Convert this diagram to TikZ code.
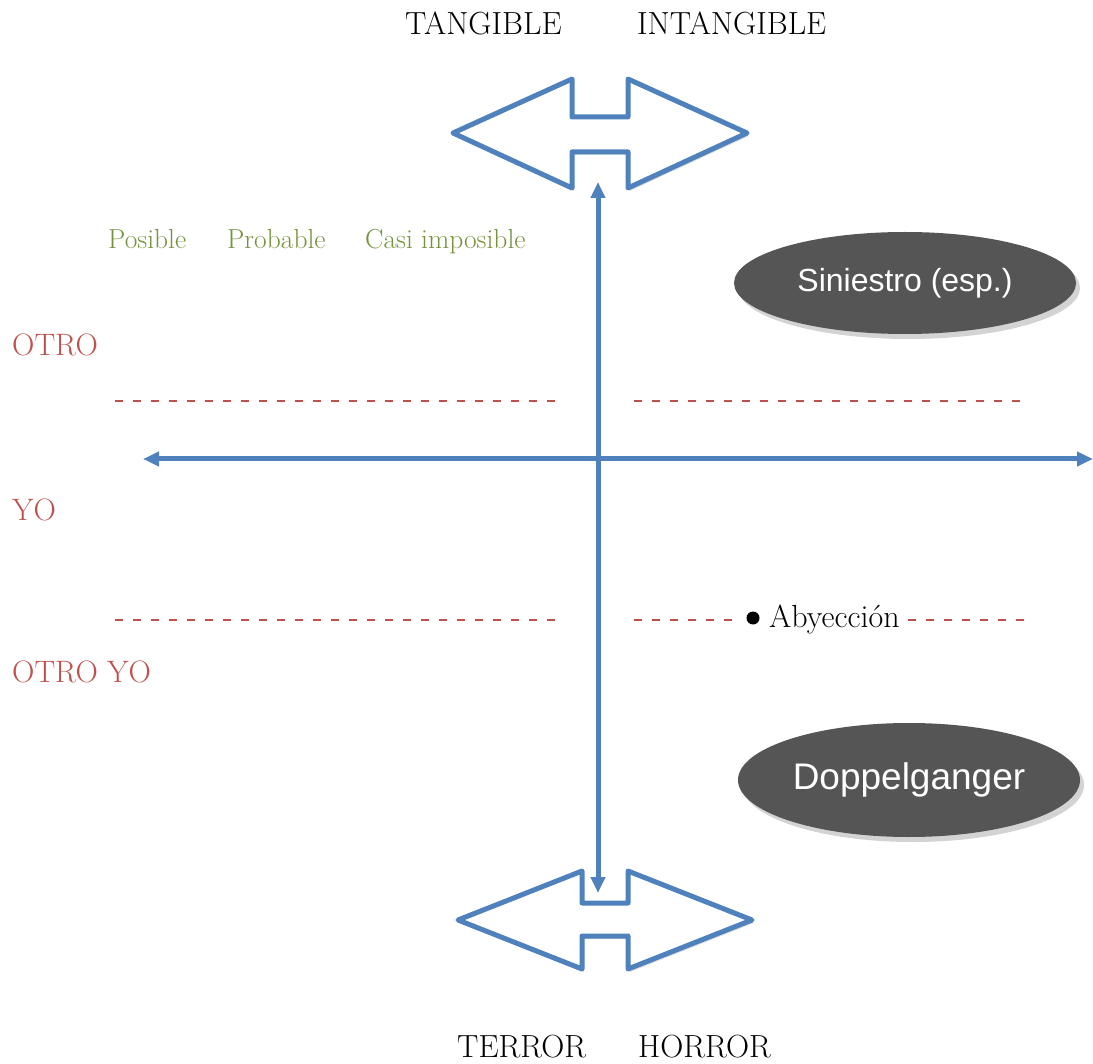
\documentclass[tikz,border=0pt]{standalone}
\usepackage{fontspec}
\newfontfamily\sansletra{Liberation Sans}
\usetikzlibrary{arrows.meta,shadows,shapes.geometric}

\definecolor{azul}{RGB}{79,129,189}
\definecolor{rojo}{RGB}{192,80,77}
\definecolor{verde}{RGB}{118,146,60}
\definecolor{gris}{RGB}{85,85,85}

\tikzset{
  flecha/.style={draw=azul, line width=5pt, line join=round, fill=white,
    drop shadow={opacity=0.25, shadow xshift=2pt, shadow yshift=-3pt}},
  eje/.style={azul, line width=5pt,
    {Triangle[length=16pt,width=14pt]}-{Triangle[length=16pt,width=14pt]}},
  guia/.style={rojo, line width=1.3pt, dash pattern=on 8pt off 10pt},
  burbuja/.style={ellipse, fill=gris, text=white, inner sep=0pt,
    minimum width=342pt, drop shadow={opacity=0.35, shadow xshift=4pt, shadow yshift=-5pt}},
  titulo/.style={anchor=base west, inner sep=0pt, font=\fontsize{32}{36}\selectfont},
  grado/.style={anchor=base west, inner sep=0pt, text=verde, font=\fontsize{27.5}{31}\selectfont},
  sujeto/.style={anchor=base west, inner sep=0pt, text=rojo, font=\fontsize{31}{35}\selectfont}
}

\begin{document}
\begin{tikzpicture}[x=1pt,y=-1pt]
  \useasboundingbox (0,0) rectangle (1093,1064);

  % Flechas dobles
  \draw[flecha] (453,133) -- (572,79) -- (572,117) -- (628,117) -- (628,79) -- (747,133)
    -- (628,188) -- (628,152) -- (572,152) -- (572,188) -- cycle;
  \draw[flecha] (458,920) -- (582,871) -- (582,903) -- (628,903) -- (628,871) -- (752,920)
    -- (628,969) -- (628,936) -- (582,936) -- (582,969) -- cycle;

  % Textos de los extremos
  \node[titulo] (tangible) at (405,35) {TANGIBLE};
  \node[titulo] (intangible) at (637,35) {INTANGIBLE};
  \node[titulo] (terror) at (457,1057) {TERROR};
  \node[titulo] (horror) at (638,1057) {HORROR};

  % Grados de posibilidad
  \node[grado] (posible) at (108,249) {Posible};
  \node[grado] (probable) at (227,249) {Probable};
  \node[grado] (casi) at (365,249) {Casi imposible};

  % Sujetos
  \node[sujeto] (otro) at (12,356) {OTRO};
  \node[sujeto] (yo) at (12,520) {YO};
  \node[sujeto] (otroyo) at (12,682) {OTRO YO};

  % Lineas discontinuas
  \draw[guia] (115,401) -- (562,401);
  \draw[guia] (634,401) -- (1022,401);
  \draw[guia] (115,620) -- (562,620);
  \draw[guia] (634,620) -- (738,620);
  \draw[guia] (908,620) -- (1026,620);
  \fill[black] (753,618) circle (6.5pt);
  \node[anchor=base west, inner sep=0pt, font=\fontsize{32}{36}\selectfont] (abyeccion) at (769,627) {Abyección};

  % Ejes
  \coordinate (norte) at (598,182);
  \coordinate (sur) at (598,893);
  \coordinate (oeste) at (143,459);
  \coordinate (este) at (1093,459);
  \draw[eje] (norte) -- (sur);
  \draw[eje] (oeste) -- (este);

  % Elipses
  \node[burbuja, minimum height=102pt, font=\sansletra\fontsize{32}{36}\selectfont] (siniestro) at (905,283) {Siniestro (esp.)};
  \node[burbuja, minimum height=114pt, font=\sansletra\fontsize{37}{41}\selectfont] (doppel) at (909,780) {Doppelganger};
\end{tikzpicture}
\end{document}
